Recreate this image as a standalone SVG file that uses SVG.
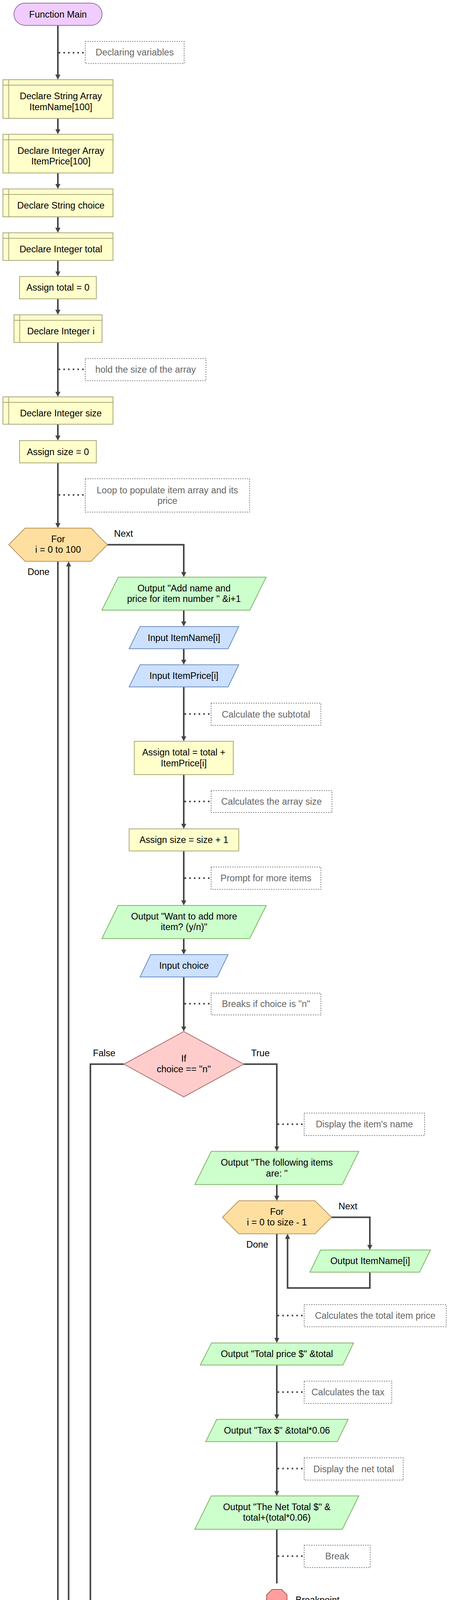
<svg xmlns="http://www.w3.org/2000/svg" width="1151" height="4357" viewBox="0 0 1151 4357">
<style>
text{font-family:"Liberation Sans",Arial,sans-serif;font-size:23.5px;fill:#000;text-anchor:middle}
.nt{fill:#666}
.lb{text-anchor:start}
.term{fill:#F0CCFF;stroke:#9673A6;stroke-width:2}
.decl{fill:#FFFFCC;stroke:#A8A87A;stroke-width:2}
.dl{fill:none;stroke:#A8A87A;stroke-width:2}
.loop{fill:#FFDF9F;stroke:#B8955B;stroke-width:2}
.out{fill:#CCFFCC;stroke:#82B366;stroke-width:2}
.in{fill:#CCE0FF;stroke:#6C8EBF;stroke-width:2}
.if{fill:#FFCCCC;stroke:#B07070;stroke-width:2}
.bp{fill:#FF9E9E;stroke:#B85450;stroke-width:2}
.cn{fill:#FFCCCC;stroke:#A87070;stroke-width:2}
.note{fill:#fff;stroke:#808080;stroke-width:2;stroke-dasharray:3 3}
.e{fill:none;stroke:#444;stroke-width:4}
.d{fill:none;stroke:#444;stroke-width:4;stroke-dasharray:4 8}
</style>
<defs>
<marker id="ah" markerUnits="userSpaceOnUse" markerWidth="14" markerHeight="14" refX="1" refY="6.5" orient="auto">
<path d="M0,0 L13,6.5 L0,13 z" fill="#444"/>
</marker>
</defs>
<g id="connectors">
<path class="e" d="M148,65 V192" marker-end="url(#ah)"/>
<path class="e" d="M148,303 V331.8" marker-end="url(#ah)"/>
<path class="e" d="M148,442.8 V471.7" marker-end="url(#ah)"/>
<path class="e" d="M148,555 V584" marker-end="url(#ah)"/>
<path class="e" d="M148,666.7 V695.8" marker-end="url(#ah)"/>
<path class="e" d="M148,765 V794" marker-end="url(#ah)"/>
<path class="e" d="M148,876.7 V1004" marker-end="url(#ah)"/>
<path class="e" d="M148,1086 V1116" marker-end="url(#ah)"/>
<path class="e" d="M148,1185 V1340" marker-end="url(#ah)"/>
<path class="e" d="M274.7,1394.5 H470 V1465.4" marker-end="url(#ah)"/>
<path class="e" d="M470,1562 V1592" marker-end="url(#ah)"/>
<path class="e" d="M470,1660.7 V1689.8" marker-end="url(#ah)"/>
<path class="e" d="M470,1758.5 V1885.7" marker-end="url(#ah)"/>
<path class="e" d="M470,1983 V2109.8" marker-end="url(#ah)"/>
<path class="e" d="M470,2178.5 V2306" marker-end="url(#ah)"/>
<path class="e" d="M470,2402.7 V2431.7" marker-end="url(#ah)"/>
<path class="e" d="M470,2501 V2628.6" marker-end="url(#ah)"/>
<path class="e" d="M623.2,2724.3 H708 V2935.5" marker-end="url(#ah)"/>
<path class="e" d="M708,3032.6 V3062" marker-end="url(#ah)"/>
<path class="e" d="M847.7,3116.3 H946 V3188" marker-end="url(#ah)"/>
<path class="e" d="M946,3256.7 V3297.3 H735.5 V3170.5" marker-end="url(#ah)"/>
<path class="e" d="M708,3158.5 V3425.9" marker-end="url(#ah)"/>
<path class="e" d="M708,3494.6 V3621.5" marker-end="url(#ah)"/>
<path class="e" d="M708,3690.6 V3817.5" marker-end="url(#ah)"/>
<path class="e" d="M708,3915 V4053.6"/>
<path class="e" d="M708,4138.3 V4194.5 H495.8" marker-end="url(#ah)"/>
<path class="e" d="M317,2724.3 H231.2 V4194.5 H444.8" marker-end="url(#ah)"/>
<path class="e" d="M470.3,4208.5 V4249.7 H175.5 V1449" marker-end="url(#ah)"/>
<path class="e" d="M148,1437 V4279" marker-end="url(#ah)"/>
<path class="d" d="M150,135 H214"/>
<path class="d" d="M150,945.5 H214"/>
<path class="d" d="M150,1267 H214"/>
<path class="d" d="M472,1827.7 H536"/>
<path class="d" d="M472,2051.8 H536"/>
<path class="d" d="M472,2248 H536"/>
<path class="d" d="M472,2569.6 H536"/>
<path class="d" d="M710,2878 H774"/>
<path class="d" d="M710,3367.8 H774"/>
<path class="d" d="M710,3563.8 H774"/>
<path class="d" d="M710,3759.6 H774"/>
<path class="d" d="M710,3983.7 H774"/>
<text x="316" y="1373.6">Next</text>
<text x="98.5" y="1471.8">Done</text>
<text x="266.4" y="2704.4">False</text>
<text x="666" y="2704.4">True</text>
<text x="890" y="3095.5">Next</text>
<text x="658" y="3193.7">Done</text>
</g>
<g id="start">
<rect class="term" x="35.7" y="8" width="225.3" height="57" rx="28.5"/>
<text x="148.4" y="44.5">Function Main</text>
</g>
<g id="note1">
<rect class="note" x="218" y="106" width="253" height="56.4"/>
<text class="nt" x="344.5" y="142.2">Declaring variables</text>
</g>
<g id="declare1">
<rect class="decl" x="7.5" y="204" width="281.5" height="99"/>
<path class="dl" d="M22.3,204 V303 M7.5,218 H289"/>
<text x="155.7" y="254.3">Declare String Array</text>
<text x="155.7" y="281.5">ItemName[100]</text>
</g>
<g id="declare2">
<rect class="decl" x="7.5" y="343.8" width="281.5" height="99"/>
<path class="dl" d="M22.3,343.8 V442.8 M7.5,357.8 H289"/>
<text x="155.7" y="394.1">Declare Integer Array</text>
<text x="155.7" y="421.3">ItemPrice[100]</text>
</g>
<g id="declare3">
<rect class="decl" x="7.5" y="483.7" width="281.5" height="71.3"/>
<path class="dl" d="M22.3,483.7 V555 M7.5,497.7 H289"/>
<text x="155.7" y="534.4">Declare String choice</text>
</g>
<g id="declare4">
<rect class="decl" x="7.5" y="596" width="281.5" height="70.7"/>
<path class="dl" d="M22.3,596 V666.7 M7.5,610 H289"/>
<text x="155.7" y="646.4">Declare Integer total</text>
</g>
<g id="assign1">
<rect class="decl" x="50" y="707.8" width="196.4" height="57.2"/>
<text x="148.2" y="744.4">Assign total = 0</text>
</g>
<g id="declare5">
<rect class="decl" x="35.7" y="806" width="225.3" height="70.7"/>
<path class="dl" d="M50.4,806 V876.7 M35.7,820 H261"/>
<text x="155.7" y="856.4">Declare Integer i</text>
</g>
<g id="note2">
<rect class="note" x="218" y="917.7" width="308.8" height="56.8"/>
<text class="nt" x="372.4" y="954.1">hold the size of the array</text>
</g>
<g id="declare6">
<rect class="decl" x="7.5" y="1016" width="281.5" height="70"/>
<path class="dl" d="M22.3,1016 V1086 M7.5,1030 H289"/>
<text x="155.7" y="1066">Declare Integer size</text>
</g>
<g id="assign2">
<rect class="decl" x="50" y="1128" width="196.4" height="57"/>
<text x="148.2" y="1164.5">Assign size = 0</text>
</g>
<g id="note3">
<rect class="note" x="218" y="1225.6" width="420.4" height="85.4"/>
<text class="nt" x="428.2" y="1263">Loop to populate item array and its</text>
<text class="nt" x="428.2" y="1289.7">price</text>
</g>
<g id="for1">
<polygon class="loop" points="22.3,1394.5 64.3,1352 232.7,1352 274.7,1394.5 232.7,1437 64.3,1437"/>
<text x="148.5" y="1388">For</text>
<text x="148.5" y="1414.7">i = 0 to 100</text>
</g>
<g id="output1">
<polygon class="out" points="302.7,1477.4 680.8,1477.4 639,1562 260.5,1562"/>
<text x="470.6" y="1513.9">Output "Add name and</text>
<text x="470.6" y="1540.7">price for item number " &amp;i+1</text>
</g>
<g id="input1">
<polygon class="in" points="358.2,1604 610.7,1604 583.5,1660.7 330.3,1660.7"/>
<text x="470.5" y="1640.6">Input ItemName[i]</text>
</g>
<g id="input2">
<polygon class="in" points="358.2,1701.8 610.7,1701.8 583.5,1758.5 330.3,1758.5"/>
<text x="470.5" y="1738.2">Input ItemPrice[i]</text>
</g>
<g id="note4">
<rect class="note" x="540" y="1800" width="280.6" height="57"/>
<text class="nt" x="680.3" y="1836.5">Calculate the subtotal</text>
</g>
<g id="assign3">
<rect class="decl" x="343.5" y="1897.7" width="253.2" height="85.3"/>
<text x="470.1" y="1934">Assign total = total +</text>
<text x="470.1" y="1962">ItemPrice[i]</text>
</g>
<g id="note5">
<rect class="note" x="540" y="2024" width="309" height="56"/>
<text class="nt" x="694.5" y="2060">Calculates the array size</text>
</g>
<g id="assign4">
<rect class="decl" x="330.3" y="2121.8" width="280.4" height="56.7"/>
<text x="470.5" y="2158">Assign size = size + 1</text>
</g>
<g id="note6">
<rect class="note" x="540" y="2219.6" width="280.6" height="57.2"/>
<text class="nt" x="680.3" y="2256.2">Prompt for more items</text>
</g>
<g id="output2">
<polygon class="out" points="302.4,2318 681,2318 638.6,2402.7 260.6,2402.7"/>
<text x="470.8" y="2354">Output "Want to add more</text>
<text x="470.8" y="2380.8">item? (y/n)"</text>
</g>
<g id="input3">
<polygon class="in" points="385.4,2443.7 583.5,2443.7 555.6,2501 358.2,2501"/>
<text x="470.7" y="2480.3">Input choice</text>
</g>
<g id="note7">
<rect class="note" x="540" y="2542.4" width="280.6" height="55.8"/>
<text class="nt" x="680.3" y="2578.3">Breaks if choice is "n"</text>
</g>
<g id="if1">
<polygon class="if" points="470,2640.6 623.2,2724.3 470,2808 317,2724.3"/>
<text x="470" y="2717.8">If</text>
<text x="470" y="2744.6">choice == "n"</text>
</g>
<g id="note8">
<rect class="note" x="778" y="2849.5" width="308" height="57.5"/>
<text class="nt" x="932" y="2886.2">Display the item's name</text>
</g>
<g id="output3">
<polygon class="out" points="540.3,2947.5 917.8,2947.5 875.8,3032.6 498.3,3032.6"/>
<text x="708" y="2983.9">Output "The following items</text>
<text x="708" y="3011.6">are: "</text>
</g>
<g id="for2">
<polygon class="loop" points="568.9,3116.3 610.9,3074 805.7,3074 847.7,3116.3 805.7,3158.5 610.9,3158.5"/>
<text x="708.3" y="3109.8">For</text>
<text x="708.3" y="3136.6">i = 0 to size - 1</text>
</g>
<g id="output4">
<polygon class="out" points="819.9,3200 1101,3200 1073,3256.7 792.7,3256.7"/>
<text x="946.8" y="3236.3">Output ItemName[i]</text>
</g>
<g id="note9">
<rect class="note" x="778" y="3339.7" width="363.4" height="56.7"/>
<text class="nt" x="959.7" y="3376">Calculates the total item price</text>
</g>
<g id="output5">
<polygon class="out" points="541,3437.9 904.3,3437.9 877.1,3494.6 512.3,3494.6"/>
<text x="708.3" y="3474.2">Output "Total price $" &amp;total</text>
</g>
<g id="note10">
<rect class="note" x="778" y="3535.7" width="224" height="57.1"/>
<text class="nt" x="890" y="3572.2">Calculates the tax</text>
</g>
<g id="output6">
<polygon class="out" points="554.3,3633.5 890.5,3633.5 862.5,3690.6 526.3,3690.6"/>
<text x="708.4" y="3670">Output "Tax $" &amp;total*0.06</text>
</g>
<g id="note11">
<rect class="note" x="778" y="3732" width="253.3" height="57"/>
<text class="nt" x="904.7" y="3768.5">Display the net total</text>
</g>
<g id="output7">
<polygon class="out" points="540.3,3829.5 917.8,3829.5 875.8,3915 498.3,3915"/>
<text x="708" y="3866.3">Output "The Net Total $" &amp;</text>
<text x="708" y="3893.4">total+(total*0.06)</text>
</g>
<g id="note12">
<rect class="note" x="778" y="3955.7" width="168.9" height="57.3"/>
<text class="nt" x="862.5" y="3992.3">Break</text>
</g>
<g id="breakpoint">
<polygon class="bp" points="696,4069 720,4069 734,4083 734,4108 720,4122 696,4122 682,4108 682,4083"/>
<text class="lb" x="756" y="4104.4">Breakpoint</text>
</g>
<g id="join">
<circle class="cn" cx="470.3" cy="4195" r="13.5"/>
</g>
<g id="end">
<rect class="term" x="64.6" y="4291" width="168.1" height="58" rx="29"/>
<text x="148.6" y="4328">End</text>
</g>
</svg>
